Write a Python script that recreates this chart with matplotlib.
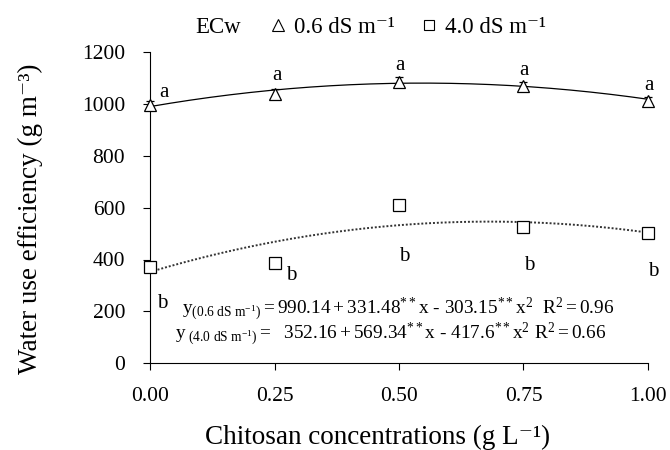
import numpy as np
import matplotlib.pyplot as plt
from matplotlib.lines import Line2D

plt.rcParams['font.family'] = ['Liberation Serif', 'DejaVu Serif']
plt.rcParams['mathtext.fontset'] = 'custom'
plt.rcParams['mathtext.rm'] = 'Liberation Serif'
plt.rcParams['mathtext.it'] = 'Liberation Serif'

# chitosan concentrations (g L-1)
conc = [0.0, 0.25, 0.5, 0.75, 1.0]

# water use efficiency (g m-3)
wue_06 = [995, 1040, 1085, 1068, 1012]
err_06 = [15, 18, 18, 18, 15]
wue_40 = [370, 385, 610, 525, 502]

# regression coefficients (c0, c1, c2) from the equations
coef_06 = [990.14, 331.48, -303.15]
coef_40 = [352.16, 569.34, -417.6]

letters_06 = ['a', 'a', 'a', 'a', 'a']
letters_40 = ['b', 'b', 'b', 'b', 'b']
# where the letters sit (x, y in data units)
pos_06 = [(0.028, 1046), (0.255, 1112), (0.502, 1147), (0.751, 1131), (1.002, 1073)]
pos_40 = [(0.025, 232), (0.283, 340), (0.51, 413), (0.761, 378), (1.01, 355)]

fig = plt.figure(figsize=(6.7, 4.5), dpi=100)
ax = fig.add_axes([0.224, 0.193, 0.743, 0.691])

xs = np.linspace(0, 1, 200)
ax.plot(xs, coef_06[0] + coef_06[1] * xs + coef_06[2] * xs ** 2,
        color='black', linewidth=0.9, linestyle='-', clip_on=False)
ax.plot(xs, coef_40[0] + coef_40[1] * xs + coef_40[2] * xs ** 2,
        color='#333333', linewidth=1.4, linestyle=(0, (1, 1)), clip_on=False)

ax.errorbar(conc, wue_06, yerr=err_06, fmt='^', markersize=8,
            markerfacecolor='white', markeredgecolor='black', markeredgewidth=0.9,
            ecolor='black', elinewidth=0.8, capsize=3, clip_on=False, zorder=3)
ax.plot(conc, wue_40, 's', markersize=8, markerfacecolor='white',
        markeredgecolor='black', markeredgewidth=0.9, clip_on=False, zorder=3)

for (x, y), t in zip(pos_06, letters_06):
    ax.text(x, y, t, fontsize=15, ha='center', va='center')
for (x, y), t in zip(pos_40, letters_40):
    ax.text(x, y, t, fontsize=15, ha='center', va='center')

ax.text(0.064, 210,
        r'$\mathregular{y_{(0.6\ dS\ m^{-1})} = 990.14 + 331.48^{**}x\ \text{-}\ 303.15^{**}x^{2}\ \ R^{2} = 0.96}$',
        fontsize=13.9, ha='left', va='center')
ax.text(0.05, 113,
        r'$\mathregular{y_{\ (4.0\ dS\ m^{-1})} =\ \ 352.16 + 569.34^{**}x\ \text{-}\ 417.6^{**}x^{2}\ R^{2} = 0.66}$',
        fontsize=13.9, ha='left', va='center')

ax.set_xlim(0, 1)
ax.set_ylim(0, 1200)
ax.set_xticks(conc)
ax.set_xticklabels(['0.00', '0.25', '0.50', '0.75', '1.00'])
ax.set_yticks(range(0, 1201, 200))
ax.spines['top'].set_visible(False)
ax.spines['right'].set_visible(False)
ax.tick_params(direction='out', length=5, labelsize=15.5, pad=13)
ax.tick_params(axis='x', pad=12)

ax.set_xlabel('Chitosan concentrations (g L\u207b\u00b9)', fontsize=19.5)
ax.xaxis.set_label_coords(0.456, -0.197)
ax.set_ylabel('Water use efficiency (g m\u207b\u00b3)', fontsize=19.5)
ax.yaxis.set_label_coords(-0.215, 0.463)

fig.text(0.291, 0.938, 'ECw', fontsize=16.5, ha='left', va='center')
handles = [
    Line2D([], [], marker='^', linestyle='none', markersize=8,
           markerfacecolor='white', markeredgecolor='black', markeredgewidth=0.8),
    Line2D([], [], marker='s', linestyle='none', markersize=7,
           markerfacecolor='white', markeredgecolor='black', markeredgewidth=0.8),
]
fig.legend(handles, ['0.6 dS m\u207b\u00b9', '4.0 dS m\u207b\u00b9'],
           loc='center left', bbox_to_anchor=(0.404, 0.938), ncol=2, frameon=False,
           fontsize=16.5, handlelength=0.6, handletextpad=0.4, columnspacing=1.2,
           borderpad=0, borderaxespad=0)

fig.savefig('out.png', dpi=100)
